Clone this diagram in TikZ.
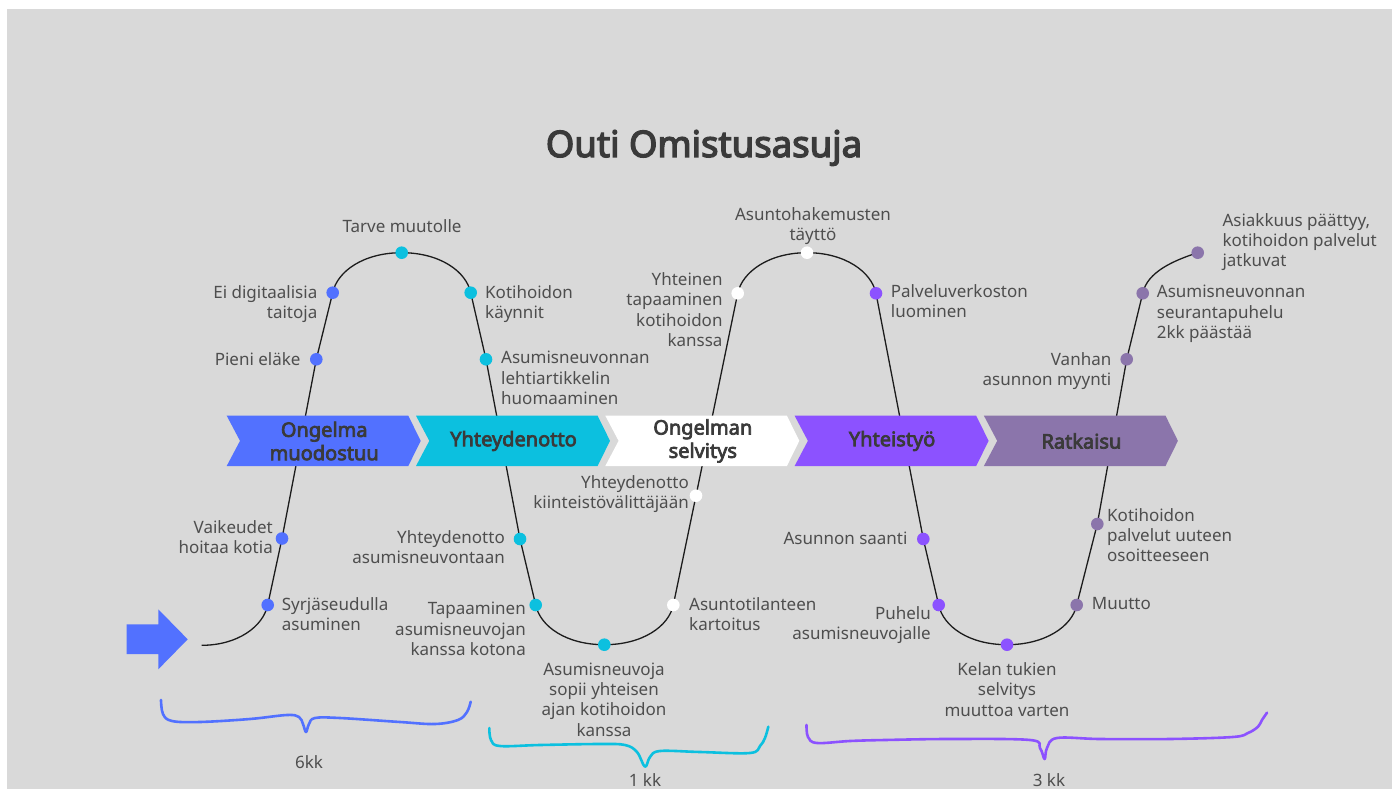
\documentclass[tikz,border=0pt]{standalone}
\usepackage{fontspec}
\setmainfont{Noto Sans}
\newfontfamily\headfont{Noto Sans}[FakeBold=3.6]
\definecolor{pagegray}{HTML}{D9D9D9}
\definecolor{stepblue}{HTML}{5271FF}
\definecolor{stepcyan}{HTML}{0CC0DF}
\definecolor{steppurple}{HTML}{8C52FF}
\definecolor{stepmauve}{HTML}{8B75AB}
\definecolor{labeltext}{HTML}{4E4E4E}
\definecolor{headtext}{HTML}{3A3A3A}
\definecolor{trailcol}{HTML}{1C1C1C}
\begin{document}
\begin{tikzpicture}[x=1pt,y=1pt,
  lbl/.style={font=\fontsize{17}{20.3}\selectfont, text=labeltext, inner sep=0pt},
  dot/.style={circle, inner sep=0pt, minimum size=12.6pt},
  chevtxt/.style={font=\headfont\fontsize{20}{23.3}\selectfont, text=headtext, align=center, inner sep=0pt},
  trail/.style={draw=trailcol, line width=1.3pt},
  handbrace/.style={line width=2.6pt, line cap=round, line join=round}]
\useasboundingbox (0,0) rectangle (1392,-789);
\fill[white] (0,0) rectangle (1392,-789);
\fill[pagegray] (7,-9) rectangle (1392,-789);

% title
\node[font=\headfont\fontsize{36.5}{42}\selectfont, text=headtext, anchor=base] (title) at (704,-157) {Outi Omistusasuja};

% positions of the stops along the path
\coordinate (p0) at (201.7,-645.3);
\coordinate (a1) at (267.7,-605);
\coordinate (a2) at (282,-538.5);
\coordinate (a3) at (316.3,-359.3);
\coordinate (a4) at (332.7,-292.7);
\coordinate (b1) at (401.7,-252.7);
\coordinate (b2) at (470.7,-292.7);
\coordinate (b3) at (486,-359.3);
\coordinate (b4) at (520,-539);
\coordinate (b5) at (535.7,-605);
\coordinate (b6) at (604.3,-644.7);
\coordinate (c1) at (673.3,-605);
\coordinate (c2) at (696,-495.7);
\coordinate (c3) at (737.7,-293.3);
\coordinate (c4) at (807,-252.7);
\coordinate (d1) at (876,-293.3);
\coordinate (d2) at (923.3,-539);
\coordinate (d3) at (938.7,-605);
\coordinate (d4) at (1007,-644.7);
\coordinate (e1) at (1076.7,-605);
\coordinate (e2) at (1097.3,-524);
\coordinate (e3) at (1126.7,-359.3);
\coordinate (e4) at (1142.7,-293.3);
\coordinate (e5) at (1197.7,-252.7);

% the winding path
\draw[trail] (p0) .. controls +(0:36) and +(258:22) .. (a1) -- (a2) -- (a3) -- (a4)
  .. controls +(78:22) and +(180:38) .. (b1)
  .. controls +(0:38) and +(102:22) .. (b2) -- (b3) -- (b4) -- (b5)
  .. controls +(-78:22) and +(180:38) .. (b6)
  .. controls +(0:38) and +(258:22) .. (c1) -- (c2) -- (c3)
  .. controls +(78:22) and +(180:38) .. (c4)
  .. controls +(0:38) and +(102:22) .. (d1) -- (d2) -- (d3)
  .. controls +(-78:22) and +(180:38) .. (d4)
  .. controls +(0:38) and +(258:22) .. (e1) -- (e2) -- (e3) -- (e4)
  .. controls +(78:22) and +(198:25) .. (e5);

% phase chevrons
\foreach \L/\c in {226.7/stepblue, 416/stepcyan, 605.3/white, 794.6/steppurple, 983.9/stepmauve}
  \fill[\c] (\L,-415.7) -- (\L+181.6,-415.7) -- (\L+194,-440.85) -- (\L+181.6,-466)
    -- (\L,-466) -- (\L+13.3,-440.85) -- cycle;
\node[chevtxt] (s1) at (324.2,-441) {Ongelma\\muodostuu};
\node[chevtxt] (s2) at (513.5,-441) {Yhteydenotto};
\node[chevtxt] (s3) at (702.8,-441) {Ongelman\\selvitys};
\node[chevtxt] (s4) at (892.1,-441) {Yhteistyö};
\node[chevtxt] (s5) at (1081.4,-441) {Ratkaisu};

% start arrow
\fill[stepblue] (126.7,-624.3) -- (158.3,-624.3) -- (158.3,-609.3) -- (187.7,-639.3)
  -- (158.3,-669.3) -- (158.3,-654) -- (126.7,-654) -- cycle;

% stop markers
\foreach \n in {a1,a2,a3,a4} \node[dot, fill=stepblue] (m\n) at (\n) {};
\foreach \n in {b1,b2,b3,b4,b5,b6} \node[dot, fill=stepcyan] (m\n) at (\n) {};
\foreach \n in {c1,c2,c3,c4} \node[dot, fill=white] (m\n) at (\n) {};
\foreach \n in {d1,d2,d3,d4} \node[dot, fill=steppurple] (m\n) at (\n) {};
\foreach \n in {e1,e2,e3,e4,e5} \node[dot, fill=stepmauve] (m\n) at (\n) {};

% stop labels
\node[lbl, anchor=north] (tTarve) at (402,-219.5) {Tarve muutolle};
\node[lbl, anchor=north east, align=right] (tDigi) at (317.5,-285) {Ei digitaalisia\\taitoja};
\node[lbl, anchor=north east] (tElake) at (300.7,-352) {Pieni eläke};
\node[lbl, anchor=north east, align=right] (tVaik) at (273,-520) {Vaikeudet\\hoitaa kotia};
\node[lbl, anchor=north west, align=left] (tSyrja) at (281.7,-597.5) {Syrjäseudulla\\asuminen};
\node[lbl, anchor=north west, align=left] (tKayn) at (485,-285) {Kotihoidon\\käynnit};
\node[lbl, anchor=north west, align=left] (tLehti) at (501,-351) {Asumisneuvonnan\\lehtiartikkelin\\huomaaminen};
\node[lbl, anchor=north east, align=right] (tYhtAs) at (505,-530.5) {Yhteydenotto\\asumisneuvontaan};
\node[lbl, anchor=north east, align=right] (tTapaa) at (526,-602) {Tapaaminen\\asumisneuvojan\\kanssa kotona};
\node[lbl, anchor=north, align=center] (tSopii) at (604,-662.5) {Asumisneuvoja\\sopii yhteisen\\ajan kotihoidon\\kanssa};
\node[lbl, anchor=north west, align=left] (tKart) at (689,-597.5) {Asuntotilanteen\\kartoitus};
\node[lbl, anchor=north east, align=right] (tKiint) at (689,-475) {Yhteydenotto\\kiinteistövälittäjään};
\node[lbl, anchor=north east, align=right] (tYhteinen) at (722.7,-272.5) {Yhteinen\\tapaaminen\\kotihoidon\\kanssa};
\node[lbl, anchor=north, align=center] (tHakem) at (813,-207.5) {Asuntohakemusten\\täyttö};
\node[lbl, anchor=north west, align=left] (tVerkko) at (890.7,-284) {Palveluverkoston\\luominen};
\node[lbl, anchor=north east] (tSaanti) at (907.7,-531.5) {Asunnon saanti};
\node[lbl, anchor=north east, align=right] (tPuhelu) at (931,-606.5) {Puhelu\\asumisneuvojalle};
\node[lbl, anchor=north, align=center] (tKela) at (1007,-662.5) {Kelan tukien\\selvitys\\muuttoa varten};
\node[lbl, anchor=north west] (tMuutto) at (1091.7,-597.5) {Muutto};
\node[lbl, anchor=north west, align=left] (tUusi) at (1107,-508) {Kotihoidon\\palvelut uuteen\\osoitteeseen};
\node[lbl, anchor=north east, align=right] (tMyynti) at (1111.5,-352) {Vanhan\\asunnon myynti};
\node[lbl, anchor=north west, align=left] (tSeur) at (1156.7,-285) {Asumisneuvonnan\\seurantapuhelu\\2kk päästää};
\node[lbl, anchor=north west, align=left] (tLoppu) at (1222.3,-213) {Asiakkuus päättyy,\\kotihoidon palvelut\\jatkuvat};

% hand-drawn duration braces
\draw[handbrace, stepblue] plot[smooth, tension=0.6] coordinates {(161,-700) (163,-714) (172,-721) (200,-722) (250,-719) (287,-715) (299,-717) (303,-724) (306,-732) (309,-724) (315,-718) (340,-718) (400,-722) (435,-724) (458,-720) (467,-712) (470.7,-701.7)};
\draw[handbrace, stepcyan] plot[smooth, tension=0.6] coordinates {(489.3,-728) (491,-740) (500,-746) (540,-745) (600,-744) (625,-745) (637,-752) (645,-766.7) (650,-757) (660,-751) (700,-752) (750,-753) (760,-746) (765,-738) (768.3,-726.7)};
\draw[handbrace, steppurple] plot[smooth, tension=0.6] coordinates {(806.5,-725) (808,-737) (817,-743) (850,-741) (885,-740) (950,-739) (1030,-740) (1040,-748) (1044.6,-759) (1047,-748) (1057,-738) (1100,-739) (1170,-739) (1232.8,-737) (1248,-733) (1258,-726.7) (1262,-720) (1267,-712.7)};
\node[lbl, anchor=base] (k6) at (309,-768) {6kk};
\node[lbl, anchor=base] (k1) at (645,-786.5) {1 kk};
\node[lbl, anchor=base] (k3) at (1049,-786) {3 kk};
\end{tikzpicture}
\end{document}
